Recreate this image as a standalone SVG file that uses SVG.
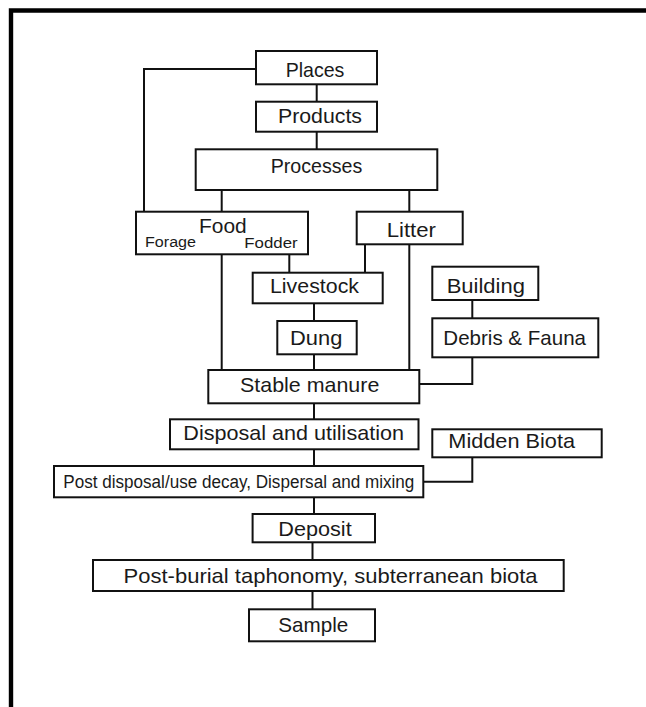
<svg xmlns="http://www.w3.org/2000/svg" width="646" height="707" viewBox="0 0 646 707">
<style>
.b{fill:#fff;stroke:#111;stroke-width:2}
.c{fill:none;stroke:#111;stroke-width:2}
text{font-family:"Liberation Sans",Arial,sans-serif;font-size:21px;fill:#1a1a1a}
.s{font-size:15.5px}
.m{font-size:18px}
</style>
<rect width="646" height="707" fill="#fff"/>
<path d="M11,707 V10.5 H646" fill="none" stroke="#000" stroke-width="4.4"/>
<g id="connectors">
<path class="c" d="M256,69 H144 V211.7"/>
<path class="c" d="M316.7,84.3 V101.7"/>
<path class="c" d="M316.7,131.7 V149.3"/>
<path class="c" d="M221.7,190 V211.7"/>
<path class="c" d="M409.3,190 V211.7"/>
<path class="c" d="M221.7,254.3 V370"/>
<path class="c" d="M289.3,254.3 V272.7"/>
<path class="c" d="M365,244.3 V272.7"/>
<path class="c" d="M409.3,244.3 V370"/>
<path class="c" d="M314,303.3 V321"/>
<path class="c" d="M314,354.3 V370"/>
<path class="c" d="M472.3,300 V318.3"/>
<path class="c" d="M472.3,357.3 V384 H419.3"/>
<path class="c" d="M314,403.3 V419.3"/>
<path class="c" d="M314,449.3 V466"/>
<path class="c" d="M472.3,457.3 V481.7 H423.3"/>
<path class="c" d="M314,497.3 V514"/>
<path class="c" d="M312.5,542.3 V560"/>
<path class="c" d="M312.5,591 V609.3"/>
</g>
<g id="places"><rect class="b" x="256" y="51" width="121" height="33.3"/><text x="285.7" y="76.7" textLength="58.7" lengthAdjust="spacingAndGlyphs">Places</text></g>
<g id="products"><rect class="b" x="256" y="101.7" width="121" height="30"/><text x="278" y="123.3" textLength="84" lengthAdjust="spacingAndGlyphs">Products</text></g>
<g id="processes"><rect class="b" x="195.7" y="149.3" width="241.6" height="40.7"/><text x="270.7" y="173.3" textLength="91.6" lengthAdjust="spacingAndGlyphs">Processes</text></g>
<g id="food"><rect class="b" x="136" y="211.7" width="172" height="42.6"/><text x="199" y="233.3" textLength="47.7" lengthAdjust="spacingAndGlyphs">Food</text><text class="s" x="145" y="246.7" textLength="51" lengthAdjust="spacingAndGlyphs">Forage</text><text class="s" x="244.3" y="247.7" textLength="53.3" lengthAdjust="spacingAndGlyphs">Fodder</text></g>
<g id="litter"><rect class="b" x="356.7" y="211.7" width="106" height="32.6"/><text x="386.7" y="236.7" textLength="49.3" lengthAdjust="spacingAndGlyphs">Litter</text></g>
<g id="livestock"><rect class="b" x="252.7" y="272.7" width="130" height="30.6"/><text x="270" y="293.3" textLength="89" lengthAdjust="spacingAndGlyphs">Livestock</text></g>
<g id="building"><rect class="b" x="432.3" y="266.7" width="106" height="33.3"/><text x="446.7" y="293.3" textLength="78.3" lengthAdjust="spacingAndGlyphs">Building</text></g>
<g id="dung"><rect class="b" x="277.3" y="321" width="79.4" height="33.3"/><text x="290" y="345" textLength="52.3" lengthAdjust="spacingAndGlyphs">Dung</text></g>
<g id="debris"><rect class="b" x="432.3" y="318.3" width="166" height="39"/><text x="443.3" y="345" textLength="142.7" lengthAdjust="spacingAndGlyphs">Debris &amp; Fauna</text></g>
<g id="stable"><rect class="b" x="208.3" y="370" width="211" height="33.3"/><text x="240" y="392.3" textLength="139.3" lengthAdjust="spacingAndGlyphs">Stable manure</text></g>
<g id="disposal"><rect class="b" x="170" y="419.3" width="248.5" height="30"/><text x="183.3" y="440" textLength="220.7" lengthAdjust="spacingAndGlyphs">Disposal and utilisation</text></g>
<g id="midden"><rect class="b" x="432.3" y="429.3" width="169.4" height="28"/><text x="448.3" y="448.3" textLength="126.7" lengthAdjust="spacingAndGlyphs">Midden Biota</text></g>
<g id="postdisposal"><rect class="b" x="54" y="466" width="369.3" height="31.3"/><text class="m" x="63.3" y="488.3" textLength="351" lengthAdjust="spacingAndGlyphs">Post disposal/use decay, Dispersal and mixing</text></g>
<g id="deposit"><rect class="b" x="252.6" y="514" width="122.4" height="28.3"/><text x="278.3" y="535.5" textLength="73.4" lengthAdjust="spacingAndGlyphs">Deposit</text></g>
<g id="postburial"><rect class="b" x="93" y="560" width="470.7" height="31"/><text x="123.6" y="583.3" textLength="414" lengthAdjust="spacingAndGlyphs">Post-burial taphonomy, subterranean biota</text></g>
<g id="sample"><rect class="b" x="249" y="609.3" width="126" height="32"/><text x="278.3" y="631.7" textLength="70" lengthAdjust="spacingAndGlyphs">Sample</text></g>
</svg>
